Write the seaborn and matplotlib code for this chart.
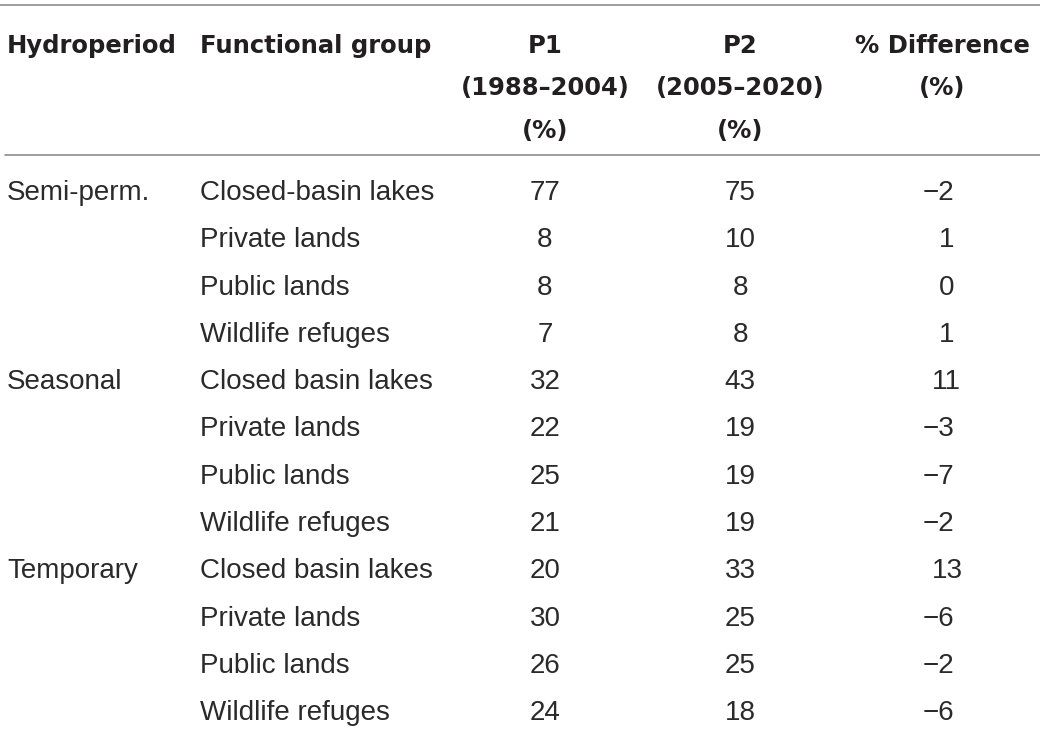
import pandas as pd
import matplotlib.pyplot as plt
import seaborn as sns

# =====================================
# DATA
# =====================================

hydroperiods = ["Semi-perm.", "Seasonal", "Temporary"]

groups = [
    "Closed-basin lakes", "Private lands", "Public lands", "Wildlife refuges",
    "Closed basin lakes", "Private lands", "Public lands", "Wildlife refuges",
    "Closed basin lakes", "Private lands", "Public lands", "Wildlife refuges",
]

p1 = [77, 8, 8, 7, 32, 22, 25, 21, 20, 30, 26, 24]
p2 = [75, 10, 8, 8, 43, 19, 19, 19, 33, 25, 25, 18]
diff = [-2, 1, 0, 1, 11, -3, -7, -2, 13, -6, -2, -6]

headers = [
    ["Hydroperiod"],
    ["Functional group"],
    ["P1", "(1988\u20132004)", "(%)"],
    ["P2", "(2005\u20132020)", "(%)"],
    ["% Difference", "(%)"],
]

# =====================================
# TABLE
# =====================================

df = pd.DataFrame({
    "hydro": [h if i % 4 == 0 else "" for i, h in
              enumerate([hp for hp in hydroperiods for _ in range(4)])],
    "group": groups,
    "p1": p1,
    "p2": p2,
    "diff": diff,
})

sns.set_theme(style="white")

text_col = "#231f20"
line_col = "#8c8c8c"

fig = plt.figure(figsize=(10.4, 7.33), dpi=100)
ax = fig.add_axes([0, 0, 1, 1])
ax.set_xlim(0, 1040)
ax.set_ylim(733, 0)
ax.axis("off")

# column anchors (x, alignment)
cols = [(7, "left"), (200, "left"), (545, "center"), (740, "center"), (942, "center")]

head_font = dict(family="DejaVu Sans", weight="bold", size=17.5, color=text_col)
body_font = dict(family="Liberation Sans", size=20, color="#2a2a2a")

# header
for (x, ha), lines in zip(cols, headers):
    for j, line in enumerate(lines):
        ax.text(x, 53 + j * 42.5, line, ha=ha, va="baseline", **head_font)

# rules
ax.plot([0, 1040], [5, 5], color=line_col, lw=1.2)
ax.plot([5, 1040], [155, 155], color=line_col, lw=1.2)

# body
for i, row in df.iterrows():
    y = 200 + i * 47.3
    ax.text(7, y, row["hydro"], ha="left", va="baseline", **body_font)
    ax.text(200, y, row["group"], ha="left", va="baseline", **body_font)
    ax.text(545, y, str(row["p1"]), ha="center", va="baseline", **body_font)
    ax.text(740, y, str(row["p2"]), ha="center", va="baseline", **body_font)
    d = row["diff"]
    if d < 0:
        ax.text(954, y, "\u2212" + str(abs(d)), ha="right", va="baseline", **body_font)
    elif d >= 10:
        ax.text(932, y, str(d), ha="left", va="baseline", **body_font)
    else:
        ax.text(954, y, str(d), ha="right", va="baseline", **body_font)

plt.savefig("out.png", dpi=100)
